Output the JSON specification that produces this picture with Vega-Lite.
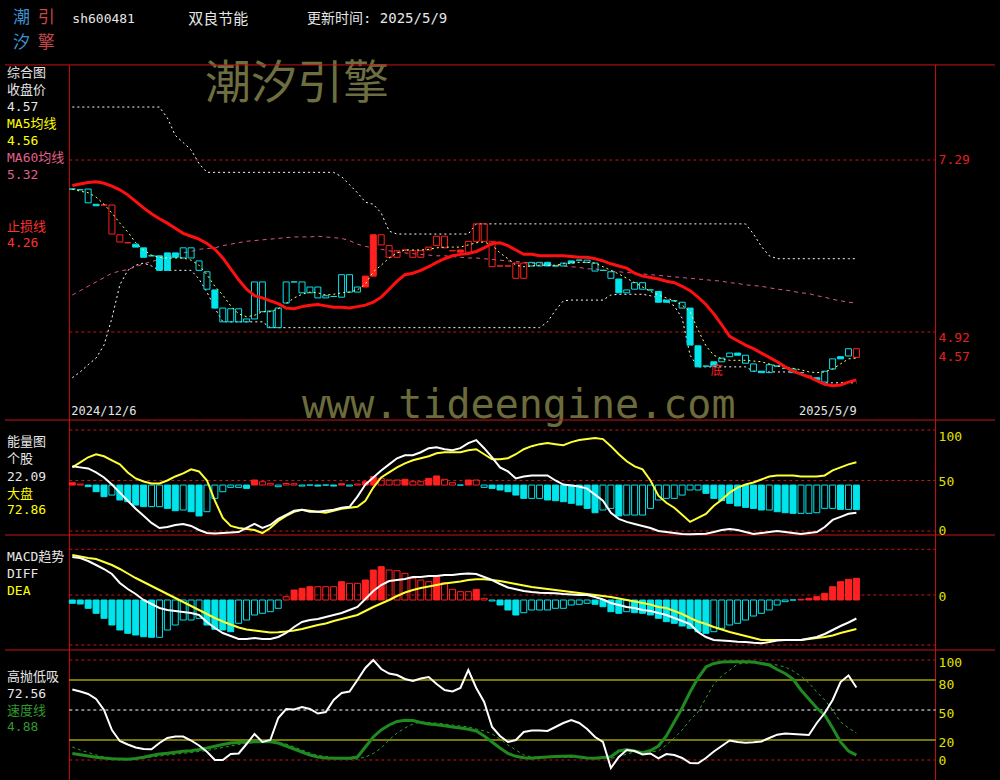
{
"$schema": "https://vega.github.io/schema/vega-lite/v6.json",
"width": 1000, "height": 780,
"autosize": {"type": "none"},
"padding": 0,
"background": "#000000",
"config": {"view": {"stroke": null}, "axis": {"disable": true}, "legend": {"disable": true},
  "text": {"font": "DejaVu Sans Mono, Noto Sans CJK SC", "fontSize": 13, "align": "left", "baseline": "middle"}},
"datasets": {"k": [
{"i":0,"o":6.89,"c":6.89,"tr":"down","stop":6.94,"ma5":6.89,"ma60":5.43,"ub":8.02,"lb":4.29,"eb":47.8,"ind":64,"mkt":63,"diff":0.38,"dea":0.4,"mb":-0.083,"hp":70.5,"sp":6.5,"sp2":13},
{"i":1,"o":6.88,"c":6.88,"tr":"down","stop":6.96,"ma5":6.86,"ma60":5.49,"ub":8.02,"lb":4.37,"eb":46.5,"ind":63,"mkt":68,"diff":0.37,"dea":0.385,"mb":-0.09,"hp":68.5,"sp":5.3,"sp2":10},
{"i":2,"o":6.70,"c":6.89,"tr":"down","stop":6.98,"ma5":6.84,"ma60":5.55,"ub":8.02,"lb":4.47,"eb":43.9,"ind":62,"mkt":73,"diff":0.34,"dea":0.37,"mb":-0.133,"hp":66,"sp":4,"sp2":7.5},
{"i":3,"o":6.68,"c":6.66,"tr":"down","stop":6.99,"ma5":6.78,"ma60":5.61,"ub":8.02,"lb":4.56,"eb":38.9,"ind":58,"mkt":76,"diff":0.30,"dea":0.36,"mb":-0.183,"hp":61,"sp":2.8,"sp2":5},
{"i":4,"o":6.67,"c":6.67,"tr":"up","stop":6.97,"ma5":6.68,"ma60":5.67,"ub":8.02,"lb":4.74,"eb":34.0,"ind":53,"mkt":74,"diff":0.26,"dea":0.33,"mb":-0.233,"hp":50,"sp":1.9,"sp2":3},
{"i":5,"o":6.67,"c":6.27,"tr":"up","stop":6.93,"ma5":6.56,"ma60":5.73,"ub":8.02,"lb":5.11,"eb":35.6,"ind":46,"mkt":70,"diff":0.21,"dea":0.30,"mb":-0.30,"hp":30,"sp":1.3,"sp2":2},
{"i":6,"o":6.26,"c":6.16,"tr":"up","stop":6.88,"ma5":6.42,"ma60":5.76,"ub":8.02,"lb":5.57,"eb":30.7,"ind":38,"mkt":66,"diff":0.12,"dea":0.26,"mb":-0.35,"hp":19,"sp":1,"sp2":1.5},
{"i":7,"o":6.15,"c":6.15,"tr":"up","stop":6.81,"ma5":6.30,"ma60":5.78,"ub":8.02,"lb":5.77,"eb":29.0,"ind":30,"mkt":58,"diff":0.06,"dea":0.215,"mb":-0.383,"hp":15.5,"sp":0.8,"sp2":1},
{"i":8,"o":6.13,"c":6.09,"tr":"down","stop":6.72,"ma5":6.15,"ma60":5.82,"ub":8.02,"lb":5.84,"eb":25.7,"ind":22,"mkt":52,"diff":0.01,"dea":0.17,"mb":-0.40,"hp":12.5,"sp":1.5,"sp2":1},
{"i":9,"o":6.08,"c":5.95,"tr":"down","stop":6.63,"ma5":6.05,"ma60":5.86,"ub":8.02,"lb":5.87,"eb":24.1,"ind":15,"mkt":49,"diff":-0.05,"dea":0.13,"mb":-0.417,"hp":11,"sp":2.7,"sp2":2},
{"i":10,"o":5.97,"c":5.97,"tr":"down","stop":6.55,"ma5":5.98,"ma60":5.89,"ub":8.02,"lb":5.83,"eb":24.1,"ind":8,"mkt":47,"diff":-0.09,"dea":0.09,"mb":-0.423,"hp":10.7,"sp":4.5,"sp2":3},
{"i":11,"o":5.97,"c":5.77,"tr":"down","stop":6.48,"ma5":5.95,"ma60":5.92,"ub":8.02,"lb":5.77,"eb":24.1,"ind":3,"mkt":47,"diff":-0.13,"dea":0.05,"mb":-0.423,"hp":17,"sp":6,"sp2":4},
{"i":12,"o":6.01,"c":5.77,"tr":"down","stop":6.42,"ma5":5.94,"ma60":5.95,"ub":7.87,"lb":5.77,"eb":22.4,"ind":4,"mkt":50,"diff":-0.15,"dea":0.01,"mb":-0.35,"hp":22,"sp":6.7,"sp2":5},
{"i":13,"o":6.01,"c":5.95,"tr":"down","stop":6.35,"ma5":5.94,"ma60":5.98,"ub":7.63,"lb":5.77,"eb":20.1,"ind":6,"mkt":54,"diff":-0.16,"dea":-0.03,"mb":-0.30,"hp":23.5,"sp":7.8,"sp2":5.8},
{"i":14,"o":5.94,"c":6.08,"tr":"down","stop":6.28,"ma5":5.94,"ma60":6.01,"ub":7.53,"lb":5.77,"eb":20.8,"ind":7,"mkt":57,"diff":-0.17,"dea":-0.07,"mb":-0.25,"hp":23.5,"sp":8.8,"sp2":6.7},
{"i":15,"o":5.94,"c":6.08,"tr":"down","stop":6.24,"ma5":5.91,"ma60":6.03,"ub":7.43,"lb":5.77,"eb":19.1,"ind":5,"mkt":61,"diff":-0.18,"dea":-0.11,"mb":-0.25,"hp":19.5,"sp":9.2,"sp2":7.5},
{"i":16,"o":5.77,"c":5.90,"tr":"down","stop":6.20,"ma5":5.84,"ma60":6.06,"ub":7.24,"lb":5.65,"eb":14.9,"ind":1,"mkt":59,"diff":-0.20,"dea":-0.15,"mb":-0.233,"hp":14.5,"sp":10.5,"sp2":8.5},
{"i":17,"o":5.51,"c":5.75,"tr":"down","stop":6.14,"ma5":5.71,"ma60":6.07,"ub":7.12,"lb":5.47,"eb":19.1,"ind":-2,"mkt":50,"diff":-0.27,"dea":-0.19,"mb":-0.30,"hp":8.3,"sp":12,"sp2":9.5},
{"i":18,"o":5.50,"c":5.25,"tr":"down","stop":6.06,"ma5":5.55,"ma60":6.08,"ub":7.12,"lb":5.25,"eb":32.3,"ind":-2.5,"mkt":30,"diff":-0.33,"dea":-0.23,"mb":-0.343,"hp":0,"sp":13.7,"sp2":11},
{"i":19,"o":5.06,"c":5.25,"tr":"down","stop":5.94,"ma5":5.43,"ma60":6.11,"ub":7.12,"lb":5.06,"eb":38.9,"ind":-2,"mkt":13,"diff":-0.38,"dea":-0.265,"mb":-0.35,"hp":0,"sp":15.5,"sp2":12.5},
{"i":20,"o":5.06,"c":5.24,"tr":"down","stop":5.79,"ma5":5.28,"ma60":6.13,"ub":7.12,"lb":5.06,"eb":43.2,"ind":-1.5,"mkt":5,"diff":-0.41,"dea":-0.295,"mb":-0.367,"hp":6,"sp":17,"sp2":14},
{"i":21,"o":5.06,"c":5.24,"tr":"down","stop":5.64,"ma5":5.17,"ma60":6.15,"ub":7.12,"lb":5.06,"eb":43.2,"ind":-1,"mkt":3,"diff":-0.44,"dea":-0.325,"mb":-0.283,"hp":6.5,"sp":17.5,"sp2":15.5},
{"i":22,"o":5.06,"c":5.10,"tr":"down","stop":5.51,"ma5":5.13,"ma60":6.17,"ub":7.12,"lb":5.06,"eb":42.2,"ind":3,"mkt":2,"diff":-0.44,"dea":-0.345,"mb":-0.25,"hp":16,"sp":18,"sp2":16.7},
{"i":23,"o":5.10,"c":5.61,"tr":"down","stop":5.42,"ma5":5.15,"ma60":6.18,"ub":7.12,"lb":5.06,"eb":50.5,"ind":7,"mkt":1,"diff":-0.43,"dea":-0.355,"mb":-0.20,"hp":26,"sp":18.2,"sp2":17.3},
{"i":24,"o":5.20,"c":5.61,"tr":"down","stop":5.39,"ma5":5.20,"ma60":6.19,"ub":7.12,"lb":5.06,"eb":48.8,"ind":3,"mkt":-2,"diff":-0.44,"dea":-0.365,"mb":-0.183,"hp":18,"sp":18.3,"sp2":17.8},
{"i":25,"o":4.98,"c":5.21,"tr":"down","stop":5.35,"ma5":5.20,"ma60":6.20,"ub":7.12,"lb":4.98,"eb":47.2,"ind":6,"mkt":3,"diff":-0.44,"dea":-0.375,"mb":-0.167,"hp":20,"sp":18.3,"sp2":18.3},
{"i":26,"o":4.98,"c":5.25,"tr":"down","stop":5.31,"ma5":5.24,"ma60":6.21,"ub":7.12,"lb":4.98,"eb":43.9,"ind":12,"mkt":10,"diff":-0.42,"dea":-0.372,"mb":-0.133,"hp":42,"sp":17,"sp2":17.5},
{"i":27,"o":5.32,"c":5.61,"tr":"down","stop":5.25,"ma5":5.31,"ma60":6.22,"ub":7.12,"lb":4.98,"eb":47.0,"ind":16,"mkt":15,"diff":-0.38,"dea":-0.365,"mb":-0.017,"hp":51,"sp":14,"sp2":16},
{"i":28,"o":5.61,"c":5.61,"tr":"down","stop":5.24,"ma5":5.39,"ma60":6.23,"ub":7.12,"lb":4.98,"eb":46.8,"ind":20,"mkt":19,"diff":-0.32,"dea":-0.355,"mb":0.05,"hp":50.5,"sp":11,"sp2":13},
{"i":29,"o":5.46,"c":5.61,"tr":"down","stop":5.27,"ma5":5.44,"ma60":6.23,"ub":7.12,"lb":4.98,"eb":44.5,"ind":21,"mkt":21,"diff":-0.27,"dea":-0.34,"mb":0.067,"hp":53,"sp":8,"sp2":10},
{"i":30,"o":5.46,"c":5.54,"tr":"down","stop":5.29,"ma5":5.47,"ma60":6.23,"ub":7.12,"lb":4.98,"eb":45.5,"ind":19,"mkt":20,"diff":-0.25,"dea":-0.32,"mb":0.083,"hp":51,"sp":5,"sp2":7},
{"i":31,"o":5.39,"c":5.54,"tr":"down","stop":5.30,"ma5":5.46,"ma60":6.24,"ub":7.12,"lb":4.98,"eb":44.5,"ind":19,"mkt":19,"diff":-0.24,"dea":-0.30,"mb":0.083,"hp":46.5,"sp":3,"sp2":4.5},
{"i":32,"o":5.39,"c":5.42,"tr":"down","stop":5.28,"ma5":5.43,"ma60":6.23,"ub":7.12,"lb":4.98,"eb":45.5,"ind":20,"mkt":18,"diff":-0.22,"dea":-0.285,"mb":0.083,"hp":48,"sp":2,"sp2":3.5},
{"i":33,"o":5.41,"c":5.41,"tr":"down","stop":5.26,"ma5":5.44,"ma60":6.22,"ub":7.12,"lb":4.98,"eb":44.5,"ind":21,"mkt":20,"diff":-0.20,"dea":-0.26,"mb":0.083,"hp":60,"sp":1.7,"sp2":2.5},
{"i":34,"o":5.40,"c":5.71,"tr":"down","stop":5.26,"ma5":5.46,"ma60":6.21,"ub":7.06,"lb":4.98,"eb":46.8,"ind":23,"mkt":22,"diff":-0.18,"dea":-0.24,"mb":0.133,"hp":67,"sp":1.7,"sp2":1.5},
{"i":35,"o":5.47,"c":5.71,"tr":"down","stop":5.25,"ma5":5.47,"ma60":6.18,"ub":6.95,"lb":4.98,"eb":44.5,"ind":24,"mkt":23,"diff":-0.15,"dea":-0.22,"mb":0.117,"hp":68.5,"sp":1.7,"sp2":0.8},
{"i":36,"o":5.47,"c":5.54,"tr":"down","stop":5.27,"ma5":5.50,"ma60":6.13,"ub":6.84,"lb":4.98,"eb":46.5,"ind":34,"mkt":24,"diff":-0.12,"dea":-0.20,"mb":0.117,"hp":80,"sp":3,"sp2":1},
{"i":37,"o":5.54,"c":5.69,"tr":"up","stop":5.29,"ma5":5.58,"ma60":6.10,"ub":6.71,"lb":4.98,"eb":48.8,"ind":46,"mkt":30,"diff":-0.04,"dea":-0.16,"mb":0.15,"hp":92,"sp":13,"sp2":3},
{"i":38,"o":5.69,"c":6.26,"tr":"up","stop":5.33,"ma5":5.75,"ma60":6.08,"ub":6.68,"lb":4.98,"eb":53.8,"ind":53,"mkt":43,"diff":0.04,"dea":-0.12,"mb":0.25,"hp":100,"sp":23,"sp2":6.5},
{"i":39,"o":6.26,"c":6.12,"tr":"up","stop":5.40,"ma5":5.84,"ma60":6.06,"ub":6.56,"lb":4.98,"eb":52.1,"ind":60,"mkt":53,"diff":0.10,"dea":-0.085,"mb":0.283,"hp":91,"sp":30,"sp2":12},
{"i":40,"o":6.11,"c":5.95,"tr":"up","stop":5.51,"ma5":5.94,"ma60":6.04,"ub":6.31,"lb":4.98,"eb":50.5,"ind":66,"mkt":58,"diff":0.14,"dea":-0.05,"mb":0.25,"hp":86.5,"sp":35,"sp2":20},
{"i":41,"o":6.04,"c":5.95,"tr":"up","stop":5.62,"ma5":6.01,"ma60":6.02,"ub":6.27,"lb":4.98,"eb":50.5,"ind":72,"mkt":63,"diff":0.15,"dea":-0.01,"mb":0.243,"hp":85,"sp":38.5,"sp2":27},
{"i":42,"o":6.05,"c":6.05,"tr":"up","stop":5.71,"ma5":6.05,"ma60":6.01,"ub":6.27,"lb":4.98,"eb":51.2,"ind":75,"mkt":67,"diff":0.16,"dea":0.025,"mb":0.217,"hp":81,"sp":39.7,"sp2":32},
{"i":43,"o":6.04,"c":5.95,"tr":"up","stop":5.73,"ma5":6.05,"ma60":6.00,"ub":6.27,"lb":4.98,"eb":48.8,"ind":75,"mkt":70,"diff":0.18,"dea":0.05,"mb":0.167,"hp":79,"sp":39.5,"sp2":36},
{"i":44,"o":6.04,"c":5.95,"tr":"up","stop":5.77,"ma5":6.05,"ma60":5.99,"ub":6.27,"lb":4.98,"eb":48.8,"ind":78,"mkt":72,"diff":0.18,"dea":0.07,"mb":0.15,"hp":81.5,"sp":37.5,"sp2":38},
{"i":45,"o":6.09,"c":6.05,"tr":"up","stop":5.82,"ma5":6.06,"ma60":5.98,"ub":6.27,"lb":4.98,"eb":52.1,"ind":82,"mkt":74,"diff":0.19,"dea":0.085,"mb":0.133,"hp":83,"sp":36,"sp2":37.5},
{"i":46,"o":6.24,"c":6.11,"tr":"up","stop":5.88,"ma5":6.08,"ma60":5.97,"ub":6.27,"lb":4.98,"eb":54.5,"ind":83,"mkt":77,"diff":0.19,"dea":0.10,"mb":0.183,"hp":76,"sp":35.3,"sp2":36.8},
{"i":47,"o":6.24,"c":6.08,"tr":"up","stop":5.93,"ma5":6.09,"ma60":5.97,"ub":6.27,"lb":4.98,"eb":51.2,"ind":81,"mkt":78,"diff":0.20,"dea":0.115,"mb":0.123,"hp":70,"sp":34.3,"sp2":36},
{"i":48,"o":6.04,"c":6.04,"tr":"up","stop":5.97,"ma5":6.09,"ma60":5.96,"ub":6.27,"lb":4.98,"eb":47.8,"ind":80,"mkt":78,"diff":0.20,"dea":0.125,"mb":0.057,"hp":68.5,"sp":33,"sp2":35},
{"i":49,"o":6.02,"c":6.05,"tr":"up","stop":5.99,"ma5":6.09,"ma60":5.95,"ub":6.27,"lb":4.98,"eb":45.5,"ind":82,"mkt":78,"diff":0.21,"dea":0.135,"mb":0.033,"hp":72,"sp":32,"sp2":34},
{"i":50,"o":6.17,"c":6.02,"tr":"up","stop":6.00,"ma5":6.12,"ma60":5.94,"ub":6.27,"lb":4.98,"eb":50.5,"ind":87,"mkt":80,"diff":0.215,"dea":0.15,"mb":0.033,"hp":90,"sp":30.7,"sp2":33},
{"i":51,"o":6.41,"c":6.17,"tr":"up","stop":6.03,"ma5":6.15,"ma60":5.94,"ub":6.41,"lb":4.98,"eb":50.5,"ind":90,"mkt":81,"diff":0.21,"dea":0.157,"mb":0.057,"hp":72,"sp":29,"sp2":31},
{"i":52,"o":6.41,"c":6.17,"tr":"up","stop":6.08,"ma5":6.16,"ma60":5.93,"ub":6.41,"lb":4.98,"eb":43.2,"ind":82,"mkt":76,"diff":0.18,"dea":0.157,"mb":-0.033,"hp":58,"sp":24,"sp2":29},
{"i":53,"o":6.17,"c":5.82,"tr":"up","stop":6.14,"ma5":6.12,"ma60":5.92,"ub":6.41,"lb":4.98,"eb":42.2,"ind":73,"mkt":71,"diff":0.15,"dea":0.15,"mb":-0.06,"hp":33,"sp":18,"sp2":26},
{"i":54,"o":5.83,"c":5.83,"tr":"up","stop":6.15,"ma5":6.01,"ma60":5.91,"ub":6.41,"lb":4.98,"eb":40.6,"ind":63,"mkt":71,"diff":0.11,"dea":0.14,"mb":-0.10,"hp":24,"sp":12,"sp2":21},
{"i":55,"o":5.83,"c":5.83,"tr":"up","stop":6.11,"ma5":5.93,"ma60":5.90,"ub":6.41,"lb":4.98,"eb":38.9,"ind":59,"mkt":72,"diff":0.075,"dea":0.125,"mb":-0.15,"hp":18,"sp":6.5,"sp2":15},
{"i":56,"o":5.87,"c":5.66,"tr":"up","stop":6.05,"ma5":5.84,"ma60":5.89,"ub":6.41,"lb":4.98,"eb":35.6,"ind":52,"mkt":76,"diff":0.057,"dea":0.11,"mb":-0.20,"hp":20,"sp":3.7,"sp2":10},
{"i":57,"o":5.87,"c":5.66,"tr":"up","stop":5.99,"ma5":5.82,"ma60":5.88,"ub":6.41,"lb":4.98,"eb":32.3,"ind":54,"mkt":81,"diff":0.04,"dea":0.095,"mb":-0.177,"hp":28,"sp":2.2,"sp2":5},
{"i":58,"o":5.83,"c":5.88,"tr":"down","stop":5.99,"ma5":5.83,"ma60":5.87,"ub":6.41,"lb":4.98,"eb":32.3,"ind":55,"mkt":84,"diff":0.03,"dea":0.08,"mb":-0.15,"hp":29.5,"sp":1.7,"sp2":3},
{"i":59,"o":5.83,"c":5.88,"tr":"down","stop":5.97,"ma5":5.84,"ma60":5.86,"ub":6.41,"lb":4.98,"eb":32.3,"ind":55,"mkt":86,"diff":0.023,"dea":0.07,"mb":-0.15,"hp":29.5,"sp":2.5,"sp2":3},
{"i":60,"o":5.88,"c":5.83,"tr":"down","stop":5.97,"ma5":5.84,"ma60":5.85,"ub":6.41,"lb":5.06,"eb":30.7,"ind":55,"mkt":87,"diff":0.02,"dea":0.06,"mb":-0.15,"hp":29,"sp":3.1,"sp2":3},
{"i":61,"o":5.83,"c":5.83,"tr":"down","stop":5.97,"ma5":5.84,"ma60":5.84,"ub":6.41,"lb":5.22,"eb":30.0,"ind":50,"mkt":86,"diff":0.017,"dea":0.05,"mb":-0.133,"hp":33,"sp":3.5,"sp2":2.8},
{"i":62,"o":5.83,"c":5.87,"tr":"down","stop":5.97,"ma5":5.86,"ma60":5.83,"ub":6.41,"lb":5.35,"eb":29.0,"ind":46,"mkt":85,"diff":0.01,"dea":0.04,"mb":-0.133,"hp":37,"sp":3.8,"sp2":2.7},
{"i":63,"o":5.90,"c":5.87,"tr":"down","stop":5.96,"ma5":5.87,"ma60":5.82,"ub":6.41,"lb":5.36,"eb":27.4,"ind":45,"mkt":88,"diff":0.005,"dea":0.03,"mb":-0.10,"hp":40,"sp":4,"sp2":2.6},
{"i":64,"o":5.91,"c":5.91,"tr":"down","stop":5.95,"ma5":5.88,"ma60":5.81,"ub":6.41,"lb":5.36,"eb":25.7,"ind":44,"mkt":90,"diff":0.001,"dea":0.02,"mb":-0.093,"hp":37,"sp":3,"sp2":2.4},
{"i":65,"o":5.88,"c":5.91,"tr":"down","stop":5.95,"ma5":5.88,"ma60":5.79,"ub":6.41,"lb":5.36,"eb":22.4,"ind":42,"mkt":91,"diff":0,"dea":0.01,"mb":-0.083,"hp":31,"sp":2,"sp2":2.2},
{"i":66,"o":5.76,"c":5.87,"tr":"down","stop":5.93,"ma5":5.87,"ma60":5.79,"ub":6.41,"lb":5.36,"eb":18.1,"ind":36,"mkt":92,"diff":-0.02,"dea":0,"mb":-0.093,"hp":23,"sp":1.8,"sp2":2},
{"i":67,"o":5.77,"c":5.77,"tr":"down","stop":5.90,"ma5":5.82,"ma60":5.77,"ub":6.41,"lb":5.36,"eb":20.8,"ind":30,"mkt":91,"diff":-0.045,"dea":-0.01,"mb":-0.117,"hp":18,"sp":2.5,"sp2":1.8},
{"i":68,"o":5.66,"c":5.75,"tr":"down","stop":5.86,"ma5":5.77,"ma60":5.76,"ub":6.41,"lb":5.43,"eb":22.4,"ind":18,"mkt":84,"diff":-0.08,"dea":-0.02,"mb":-0.167,"hp":-8,"sp":3.3,"sp2":1.7},
{"i":69,"o":5.65,"c":5.46,"tr":"down","stop":5.83,"ma5":5.72,"ma60":5.75,"ub":6.41,"lb":5.44,"eb":14.9,"ind":12,"mkt":76,"diff":-0.10,"dea":-0.035,"mb":-0.183,"hp":3,"sp":9,"sp2":3},
{"i":70,"o":5.46,"c":5.50,"tr":"down","stop":5.80,"ma5":5.66,"ma60":5.74,"ub":6.41,"lb":5.44,"eb":15.8,"ind":9,"mkt":69,"diff":-0.12,"dea":-0.05,"mb":-0.167,"hp":10,"sp":10.5,"sp2":6},
{"i":71,"o":5.51,"c":5.60,"tr":"down","stop":5.73,"ma5":5.60,"ma60":5.73,"ub":6.41,"lb":5.44,"eb":15.8,"ind":7,"mkt":64,"diff":-0.13,"dea":-0.065,"mb":-0.177,"hp":9,"sp":9,"sp2":8},
{"i":72,"o":5.51,"c":5.60,"tr":"down","stop":5.69,"ma5":5.54,"ma60":5.72,"ub":6.41,"lb":5.44,"eb":15.8,"ind":5,"mkt":61,"diff":-0.15,"dea":-0.08,"mb":-0.183,"hp":5.5,"sp":7.3,"sp2":8.3},
{"i":73,"o":5.50,"c":5.50,"tr":"down","stop":5.67,"ma5":5.48,"ma60":5.71,"ub":6.41,"lb":5.42,"eb":22.4,"ind":3,"mkt":50,"diff":-0.16,"dea":-0.095,"mb":-0.20,"hp":6.5,"sp":9.5,"sp2":8.3},
{"i":74,"o":5.48,"c":5.33,"tr":"down","stop":5.65,"ma5":5.43,"ma60":5.70,"ub":6.41,"lb":5.39,"eb":30.7,"ind":0,"mkt":35,"diff":-0.18,"dea":-0.12,"mb":-0.233,"hp":1.7,"sp":14,"sp2":9},
{"i":75,"o":5.36,"c":5.33,"tr":"down","stop":5.62,"ma5":5.39,"ma60":5.69,"ub":6.41,"lb":5.35,"eb":32.3,"ind":-1,"mkt":28,"diff":-0.20,"dea":-0.13,"mb":-0.267,"hp":6,"sp":24,"sp2":15},
{"i":76,"o":5.35,"c":5.35,"tr":"down","stop":5.60,"ma5":5.35,"ma60":5.68,"ub":6.41,"lb":5.28,"eb":32.3,"ind":-2,"mkt":23,"diff":-0.23,"dea":-0.16,"mb":-0.283,"hp":5,"sp":38,"sp2":22},
{"i":77,"o":5.25,"c":5.33,"tr":"down","stop":5.55,"ma5":5.29,"ma60":5.67,"ub":6.41,"lb":5.11,"eb":35.6,"ind":-3,"mkt":16,"diff":-0.26,"dea":-0.19,"mb":-0.31,"hp":2,"sp":52,"sp2":30},
{"i":78,"o":5.25,"c":4.74,"tr":"down","stop":5.49,"ma5":5.20,"ma60":5.66,"ub":6.41,"lb":4.60,"eb":40.6,"ind":-3.3,"mkt":9,"diff":-0.29,"dea":-0.23,"mb":-0.333,"hp":-3,"sp":68,"sp2":40},
{"i":79,"o":4.73,"c":4.44,"tr":"down","stop":5.40,"ma5":4.95,"ma60":5.65,"ub":6.41,"lb":4.44,"eb":40.6,"ind":-3,"mkt":13,"diff":-0.37,"dea":-0.265,"mb":-0.367,"hp":-3.3,"sp":82,"sp2":48},
{"i":80,"o":4.45,"c":4.45,"tr":"down","stop":5.30,"ma5":4.73,"ma60":5.64,"ub":6.41,"lb":4.44,"eb":37.3,"ind":-2.6,"mkt":17,"diff":-0.42,"dea":-0.29,"mb":-0.383,"hp":2,"sp":93,"sp2":62},
{"i":81,"o":4.51,"c":4.45,"tr":"down","stop":5.17,"ma5":4.60,"ma60":5.63,"ub":6.41,"lb":4.44,"eb":32.3,"ind":-1,"mkt":25,"diff":-0.45,"dea":-0.32,"mb":-0.367,"hp":8.5,"sp":96.5,"sp2":76},
{"i":82,"o":4.51,"c":4.56,"tr":"down","stop":5.02,"ma5":4.55,"ma60":5.62,"ub":6.41,"lb":4.44,"eb":30.0,"ind":1,"mkt":31,"diff":-0.455,"dea":-0.345,"mb":-0.333,"hp":14,"sp":98,"sp2":84},
{"i":83,"o":4.58,"c":4.63,"tr":"down","stop":4.86,"ma5":4.53,"ma60":5.60,"ub":6.41,"lb":4.44,"eb":27.4,"ind":2,"mkt":38,"diff":-0.46,"dea":-0.37,"mb":-0.30,"hp":19.5,"sp":98.3,"sp2":90},
{"i":84,"o":4.63,"c":4.60,"tr":"down","stop":4.80,"ma5":4.53,"ma60":5.59,"ub":6.41,"lb":4.44,"eb":24.8,"ind":1,"mkt":43,"diff":-0.467,"dea":-0.39,"mb":-0.283,"hp":18,"sp":98.3,"sp2":96},
{"i":85,"o":4.49,"c":4.60,"tr":"down","stop":4.74,"ma5":4.53,"ma60":5.57,"ub":6.41,"lb":4.44,"eb":23.4,"ind":-1,"mkt":46,"diff":-0.47,"dea":-0.41,"mb":-0.25,"hp":17.3,"sp":98.3,"sp2":96.8},
{"i":86,"o":4.38,"c":4.48,"tr":"down","stop":4.69,"ma5":4.52,"ma60":5.56,"ub":6.27,"lb":4.38,"eb":22.4,"ind":-3,"mkt":48,"diff":-0.478,"dea":-0.43,"mb":-0.21,"hp":17.8,"sp":98,"sp2":97.2},
{"i":87,"o":4.38,"c":4.36,"tr":"down","stop":4.63,"ma5":4.51,"ma60":5.55,"ub":6.10,"lb":4.37,"eb":20.8,"ind":-2,"mkt":51,"diff":-0.483,"dea":-0.45,"mb":-0.183,"hp":18.5,"sp":96.5,"sp2":97.3},
{"i":88,"o":4.36,"c":4.47,"tr":"down","stop":4.57,"ma5":4.48,"ma60":5.53,"ub":5.97,"lb":4.37,"eb":20.8,"ind":-1,"mkt":54,"diff":-0.47,"dea":-0.45,"mb":-0.15,"hp":22,"sp":95,"sp2":96},
{"i":89,"o":4.45,"c":4.45,"tr":"down","stop":4.51,"ma5":4.45,"ma60":5.51,"ub":5.93,"lb":4.37,"eb":19.1,"ind":0,"mkt":55,"diff":-0.455,"dea":-0.45,"mb":-0.10,"hp":25.3,"sp":90.5,"sp2":95},
{"i":90,"o":4.42,"c":4.42,"tr":"down","stop":4.44,"ma5":4.44,"ma60":5.50,"ub":5.93,"lb":4.37,"eb":18.1,"ind":-1,"mkt":55,"diff":-0.45,"dea":-0.45,"mb":-0.067,"hp":26.5,"sp":86.5,"sp2":93},
{"i":91,"o":4.36,"c":4.41,"tr":"down","stop":4.38,"ma5":4.42,"ma60":5.48,"ub":5.93,"lb":4.37,"eb":17.5,"ind":-2,"mkt":55,"diff":-0.45,"dea":-0.45,"mb":-0.05,"hp":26,"sp":81,"sp2":89},
{"i":92,"o":4.36,"c":4.36,"tr":"down","stop":4.34,"ma5":4.40,"ma60":5.46,"ub":5.93,"lb":4.34,"eb":17.5,"ind":-3,"mkt":54,"diff":-0.45,"dea":-0.45,"mb":-0.043,"hp":25.5,"sp":70,"sp2":84},
{"i":93,"o":4.31,"c":4.31,"tr":"down","stop":4.30,"ma5":4.37,"ma60":5.45,"ub":5.93,"lb":4.30,"eb":17.5,"ind":-2,"mkt":54,"diff":-0.435,"dea":-0.44,"mb":-0.033,"hp":25,"sp":61,"sp2":77},
{"i":94,"o":4.29,"c":4.26,"tr":"down","stop":4.25,"ma5":4.36,"ma60":5.42,"ub":5.93,"lb":4.24,"eb":18.1,"ind":-1,"mkt":54,"diff":-0.42,"dea":-0.43,"mb":-0.017,"hp":37,"sp":52,"sp2":68},
{"i":95,"o":4.23,"c":4.38,"tr":"down","stop":4.20,"ma5":4.37,"ma60":5.40,"ub":5.93,"lb":4.22,"eb":22.4,"ind":4,"mkt":55,"diff":-0.39,"dea":-0.42,"mb":0.017,"hp":47,"sp":45,"sp2":60},
{"i":96,"o":4.41,"c":4.55,"tr":"down","stop":4.18,"ma5":4.41,"ma60":5.37,"ub":5.93,"lb":4.22,"eb":22.4,"ind":11,"mkt":60,"diff":-0.35,"dea":-0.405,"mb":0.083,"hp":60,"sp":32,"sp2":50},
{"i":97,"o":4.58,"c":4.55,"tr":"down","stop":4.19,"ma5":4.48,"ma60":5.35,"ub":5.93,"lb":4.22,"eb":21.4,"ind":14,"mkt":63,"diff":-0.31,"dea":-0.38,"mb":0.133,"hp":78,"sp":18,"sp2":38},
{"i":98,"o":4.59,"c":4.69,"tr":"down","stop":4.23,"ma5":4.55,"ma60":5.33,"ub":5.93,"lb":4.22,"eb":21.4,"ind":17,"mkt":66,"diff":-0.275,"dea":-0.36,"mb":0.157,"hp":84.5,"sp":9,"sp2":32},
{"i":99,"o":4.69,"c":4.57,"tr":"up","stop":4.26,"ma5":4.56,"ma60":5.32,"ub":5.93,"lb":4.22,"eb":21.2,"ind":18,"mkt":68,"diff":-0.235,"dea":-0.34,"mb":0.167,"hp":72.56,"sp":4.88,"sp2":27}
]},
"data": {"name": "k"},
"layer": [
{"layer": [
 {"data": {"values": [{}]}, "mark": {"type": "text", "text": "潮汐引擎", "color": "#6e6e40", "fontSize": 46, "font": "Noto Sans CJK SC"}, "encoding": {"x": {"datum": 16.75, "type": "quantitative", "scale": {"domain": [-8.5, 116.5], "nice": false, "zero": false}}, "y": {"datum": 8.337, "type": "quantitative", "scale": {"domain": [-1.253, 9.495], "nice": false, "zero": false}}}},
 {"data": {"values": [{}]}, "mark": {"type": "text", "text": "www.tideengine.com", "color": "#6b6b3c", "fontSize": 40, "font": "DejaVu Sans Mono", "baseline": "alphabetic"}, "encoding": {"x": {"datum": 29, "type": "quantitative"}, "y": {"datum": 3.735, "type": "quantitative"}}},
 {"data": {"values": [{"lv": 7.29}, {"lv": 4.92}]}, "mark": {"type": "rule", "color": "#c81414", "strokeDash": [3, 3], "strokeWidth": 1}, "encoding": {"x": {"datum": -0.375, "type": "quantitative"}, "x2": {"datum": 109}, "y": {"field": "lv", "type": "quantitative"}}},
 {"data": {"values": [{"lv": 8.6}, {"lv": 3.707}]}, "mark": {"type": "rule", "color": "#c81414", "strokeWidth": 1}, "encoding": {"x": {"datum": -8.5, "type": "quantitative"}, "x2": {"datum": 116.5}, "y": {"field": "lv", "type": "quantitative"}}},
 {"data": {"values": [{"bx": -0.375}, {"bx": 109}]}, "mark": {"type": "rule", "color": "#c81414", "strokeWidth": 1}, "encoding": {"x": {"field": "bx", "type": "quantitative"}, "y": {"datum": 8.6, "type": "quantitative"}, "y2": {"datum": -1.253}}},
 {"mark": {"type": "line", "color": "#ffffff", "strokeWidth": 1, "strokeDash": [2, 3]}, "encoding": {"x": {"field": "i", "type": "quantitative"}, "y": {"field": "ub", "type": "quantitative"}}},
 {"mark": {"type": "line", "color": "#ffffff", "strokeWidth": 1, "strokeDash": [2, 3]}, "encoding": {"x": {"field": "i", "type": "quantitative"}, "y": {"field": "lb", "type": "quantitative"}}},
 {"mark": {"type": "line", "color": "#d9587f", "strokeWidth": 1, "strokeDash": [4, 4]}, "encoding": {"x": {"field": "i", "type": "quantitative"}, "y": {"field": "ma60", "type": "quantitative"}}},
 {"mark": {"type": "bar", "size": 6, "strokeWidth": 1}, "encoding": {"x": {"field": "i", "type": "quantitative"}, "y": {"field": "o", "type": "quantitative"}, "y2": {"field": "c"},
   "stroke": {"condition": {"test": "datum.tr=='up'", "value": "#ff2020"}, "value": "#00e4ec"},
   "fill": {"condition": [{"test": "datum.tr=='up' && datum.c>datum.o", "value": "#ff2020"}, {"test": "datum.tr=='down' && datum.c<datum.o", "value": "#00e4ec"}], "value": "transparent"}}},
 {"mark": {"type": "line", "color": "#ffff66", "strokeWidth": 1, "strokeDash": [2, 3]}, "encoding": {"x": {"field": "i", "type": "quantitative"}, "y": {"field": "ma5", "type": "quantitative"}}},
 {"mark": {"type": "line", "color": "#ff1010", "strokeWidth": 3}, "encoding": {"x": {"field": "i", "type": "quantitative"}, "y": {"field": "stop", "type": "quantitative"}}},
 {"data": {"values": [{}]}, "mark": {"type": "text", "text": "潮", "color": "#3f8fcf", "fontSize": 17, "font": "Noto Sans CJK SC"}, "encoding": {"x": {"datum": -7.5, "type": "quantitative"}, "y": {"datum": 9.247, "type": "quantitative"}}},
 {"data": {"values": [{}]}, "mark": {"type": "text", "text": "引", "color": "#c8464b", "fontSize": 17, "font": "Noto Sans CJK SC"}, "encoding": {"x": {"datum": -4.375, "type": "quantitative"}, "y": {"datum": 9.247, "type": "quantitative"}}},
 {"data": {"values": [{}]}, "mark": {"type": "text", "text": "汐", "color": "#3f8fcf", "fontSize": 17, "font": "Noto Sans CJK SC"}, "encoding": {"x": {"datum": -7.5, "type": "quantitative"}, "y": {"datum": 8.902, "type": "quantitative"}}},
 {"data": {"values": [{}]}, "mark": {"type": "text", "text": "擎", "color": "#c8464b", "fontSize": 17, "font": "Noto Sans CJK SC"}, "encoding": {"x": {"datum": -4.375, "type": "quantitative"}, "y": {"datum": 8.902, "type": "quantitative"}}},
 {"data": {"values": [{}]}, "mark": {"type": "text", "text": "sh600481", "color": "#e6e6e6"}, "encoding": {"x": {"datum": 0, "type": "quantitative"}, "y": {"datum": 9.233, "type": "quantitative"}}},
 {"data": {"values": [{}]}, "mark": {"type": "text", "text": "双良节能", "color": "#e6e6e6", "fontSize": 15}, "encoding": {"x": {"datum": 14.625, "type": "quantitative"}, "y": {"datum": 9.233, "type": "quantitative"}}},
 {"data": {"values": [{}]}, "mark": {"type": "text", "text": "更新时间: 2025/5/9", "color": "#e6e6e6", "fontSize": 14}, "encoding": {"x": {"datum": 29.625, "type": "quantitative"}, "y": {"datum": 9.233, "type": "quantitative"}}},
 {"data": {"values": [{}]}, "mark": {"type": "text", "text": "综合图", "color": "#e6e6e6"}, "encoding": {"x": {"datum": -8.25, "type": "quantitative"}, "y": {"datum": 8.489, "type": "quantitative"}}},
 {"data": {"values": [{}]}, "mark": {"type": "text", "text": "收盘价", "color": "#e6e6e6"}, "encoding": {"x": {"datum": -8.25, "type": "quantitative"}, "y": {"datum": 8.255, "type": "quantitative"}}},
 {"data": {"values": [{}]}, "mark": {"type": "text", "text": "4.57", "color": "#e6e6e6"}, "encoding": {"x": {"datum": -8.25, "type": "quantitative"}, "y": {"datum": 8.021, "type": "quantitative"}}},
 {"data": {"values": [{}]}, "mark": {"type": "text", "text": "MA5均线", "color": "#ffff00"}, "encoding": {"x": {"datum": -8.25, "type": "quantitative"}, "y": {"datum": 7.786, "type": "quantitative"}}},
 {"data": {"values": [{}]}, "mark": {"type": "text", "text": "4.56", "color": "#ffff00"}, "encoding": {"x": {"datum": -8.25, "type": "quantitative"}, "y": {"datum": 7.552, "type": "quantitative"}}},
 {"data": {"values": [{}]}, "mark": {"type": "text", "text": "MA60均线", "color": "#e0608a"}, "encoding": {"x": {"datum": -8.25, "type": "quantitative"}, "y": {"datum": 7.318, "type": "quantitative"}}},
 {"data": {"values": [{}]}, "mark": {"type": "text", "text": "5.32", "color": "#e0608a"}, "encoding": {"x": {"datum": -8.25, "type": "quantitative"}, "y": {"datum": 7.083, "type": "quantitative"}}},
 {"data": {"values": [{}]}, "mark": {"type": "text", "text": "止损线", "color": "#ff3030"}, "encoding": {"x": {"datum": -8.25, "type": "quantitative"}, "y": {"datum": 6.367, "type": "quantitative"}}},
 {"data": {"values": [{}]}, "mark": {"type": "text", "text": "4.26", "color": "#ff3030"}, "encoding": {"x": {"datum": -8.25, "type": "quantitative"}, "y": {"datum": 6.146, "type": "quantitative"}}},
 {"data": {"values": [{}]}, "mark": {"type": "text", "text": "2024/12/6", "color": "#e6e6e6", "fontSize": 12}, "encoding": {"x": {"datum": -0.125, "type": "quantitative"}, "y": {"datum": 3.831, "type": "quantitative"}}},
 {"data": {"values": [{}]}, "mark": {"type": "text", "text": "2025/5/9", "color": "#e6e6e6", "fontSize": 12}, "encoding": {"x": {"datum": 91.75, "type": "quantitative"}, "y": {"datum": 3.831, "type": "quantitative"}}},
 {"data": {"values": [{}]}, "mark": {"type": "text", "text": "底", "color": "#ff2020", "fontSize": 12}, "encoding": {"x": {"datum": 80.6, "type": "quantitative"}, "y": {"datum": 4.383, "type": "quantitative"}}},
 {"data": {"values": [{}]}, "mark": {"type": "text", "text": "7.29", "color": "#e02020"}, "encoding": {"x": {"datum": 109.375, "type": "quantitative"}, "y": {"datum": 7.29, "type": "quantitative"}}},
 {"data": {"values": [{}]}, "mark": {"type": "text", "text": "4.92", "color": "#e02020", "baseline": "top"}, "encoding": {"x": {"datum": 109.375, "type": "quantitative"}, "y": {"datum": 4.92, "type": "quantitative"}}},
 {"data": {"values": [{}]}, "mark": {"type": "text", "text": "4.57", "color": "#e02020"}, "encoding": {"x": {"datum": 109.375, "type": "quantitative"}, "y": {"datum": 4.57, "type": "quantitative"}}}
]},
{"layer": [
 {"data": {"values": [{"lv": 100}, {"lv": 50}, {"lv": 0}]}, "mark": {"type": "rule", "color": "#c81414", "strokeDash": [3, 3], "strokeWidth": 1}, "encoding": {"x": {"datum": -0.375, "type": "quantitative"}, "x2": {"datum": 109}, "y": {"field": "lv", "type": "quantitative", "scale": {"domain": [-246.5, 525.7], "nice": false, "zero": false}}}},
 {"data": {"values": [{"lv": -3.96}]}, "mark": {"type": "rule", "color": "#c81414", "strokeWidth": 1}, "encoding": {"x": {"datum": -8.5, "type": "quantitative"}, "x2": {"datum": 116.5}, "y": {"field": "lv", "type": "quantitative"}}},
 {"transform": [{"window": [{"op": "lag", "field": "eb", "as": "ebp"}], "sort": [{"field": "i", "order": "ascending"}]}],
  "mark": {"type": "bar", "size": 6, "strokeWidth": 1},
  "encoding": {"x": {"field": "i", "type": "quantitative"}, "y": {"field": "eb", "type": "quantitative"}, "y2": {"datum": 45.5},
   "stroke": {"condition": {"test": "datum.eb>45.5", "value": "#ff2020"}, "value": "#00e4ec"},
   "fill": {"condition": [{"test": "(datum.ebp==null || abs(datum.eb-45.5)>abs(datum.ebp-45.5)) && datum.eb>45.5", "value": "#ff2020"}, {"test": "(datum.ebp==null || abs(datum.eb-45.5)>abs(datum.ebp-45.5)) && datum.eb<=45.5", "value": "#00e4ec"}], "value": "transparent"}}},
 {"mark": {"type": "line", "color": "#ffff33", "strokeWidth": 2}, "encoding": {"x": {"field": "i", "type": "quantitative"}, "y": {"field": "mkt", "type": "quantitative"}}},
 {"mark": {"type": "line", "color": "#ffffff", "strokeWidth": 2}, "encoding": {"x": {"field": "i", "type": "quantitative"}, "y": {"field": "ind", "type": "quantitative"}}},
 {"data": {"values": [{}]}, "mark": {"type": "text", "text": "能量图", "color": "#e6e6e6"}, "encoding": {"x": {"datum": -8.25, "type": "quantitative"}, "y": {"datum": 88.1, "type": "quantitative"}}},
 {"data": {"values": [{}]}, "mark": {"type": "text", "text": "个股", "color": "#e6e6e6"}, "encoding": {"x": {"datum": -8.25, "type": "quantitative"}, "y": {"datum": 71.3, "type": "quantitative"}}},
 {"data": {"values": [{}]}, "mark": {"type": "text", "text": "22.09", "color": "#e6e6e6"}, "encoding": {"x": {"datum": -8.25, "type": "quantitative"}, "y": {"datum": 53.5, "type": "quantitative"}}},
 {"data": {"values": [{}]}, "mark": {"type": "text", "text": "大盘", "color": "#ffff00"}, "encoding": {"x": {"datum": -8.25, "type": "quantitative"}, "y": {"datum": 36.6, "type": "quantitative"}}},
 {"data": {"values": [{}]}, "mark": {"type": "text", "text": "72.86", "color": "#ffff00"}, "encoding": {"x": {"datum": -8.25, "type": "quantitative"}, "y": {"datum": 20.8, "type": "quantitative"}}},
 {"data": {"values": [{"lab": "100", "lv": 93.1}, {"lab": "50", "lv": 48.5}, {"lab": "0", "lv": 0}]}, "mark": {"type": "text", "color": "#e0e000"}, "encoding": {"x": {"datum": 109.375, "type": "quantitative"}, "y": {"field": "lv", "type": "quantitative"}, "text": {"field": "lab"}}}
]},
{"layer": [
 {"data": {"values": [{"lv": 0.457}, {"lv": 0}, {"lv": -0.5}]}, "mark": {"type": "rule", "color": "#c81414", "strokeDash": [3, 3], "strokeWidth": 1}, "encoding": {"x": {"datum": -0.375, "type": "quantitative"}, "x2": {"datum": 109}, "y": {"field": "lv", "type": "quantitative", "scale": {"domain": [-1.85, 5.95], "nice": false, "zero": false}}}},
 {"data": {"values": [{"lv": -0.55}]}, "mark": {"type": "rule", "color": "#c81414", "strokeWidth": 1}, "encoding": {"x": {"datum": -8.5, "type": "quantitative"}, "x2": {"datum": 116.5}, "y": {"field": "lv", "type": "quantitative"}}},
 {"transform": [{"window": [{"op": "lag", "field": "mb", "as": "mbp"}], "sort": [{"field": "i", "order": "ascending"}]}],
  "mark": {"type": "bar", "size": 6, "strokeWidth": 1},
  "encoding": {"x": {"field": "i", "type": "quantitative"}, "y": {"field": "mb", "type": "quantitative"}, "y2": {"datum": -0.05},
   "stroke": {"condition": {"test": "datum.mb>-0.05", "value": "#ff2020"}, "value": "#00e4ec"},
   "fill": {"condition": [{"test": "(datum.mbp==null || abs(datum.mb+0.05)>abs(datum.mbp+0.05)) && datum.mb>-0.05", "value": "#ff2020"}, {"test": "(datum.mbp==null || abs(datum.mb+0.05)>abs(datum.mbp+0.05)) && datum.mb<=-0.05", "value": "#00e4ec"}], "value": "transparent"}}},
 {"mark": {"type": "line", "color": "#ffff33", "strokeWidth": 2}, "encoding": {"x": {"field": "i", "type": "quantitative"}, "y": {"field": "dea", "type": "quantitative"}}},
 {"mark": {"type": "line", "color": "#ffffff", "strokeWidth": 2}, "encoding": {"x": {"field": "i", "type": "quantitative"}, "y": {"field": "diff", "type": "quantitative"}}},
 {"data": {"values": [{}]}, "mark": {"type": "text", "text": "MACD趋势", "color": "#e6e6e6"}, "encoding": {"x": {"datum": -8.25, "type": "quantitative"}, "y": {"datum": 0.38, "type": "quantitative"}}},
 {"data": {"values": [{}]}, "mark": {"type": "text", "text": "DIFF", "color": "#e6e6e6"}, "encoding": {"x": {"datum": -8.25, "type": "quantitative"}, "y": {"datum": 0.21, "type": "quantitative"}}},
 {"data": {"values": [{}]}, "mark": {"type": "text", "text": "DEA", "color": "#ffff00"}, "encoding": {"x": {"datum": -8.25, "type": "quantitative"}, "y": {"datum": 0.04, "type": "quantitative"}}},
 {"data": {"values": [{}]}, "mark": {"type": "text", "text": "0", "color": "#e0e000"}, "encoding": {"x": {"datum": 109.375, "type": "quantitative"}, "y": {"datum": -0.02, "type": "quantitative"}}}
]},
{"layer": [
 {"data": {"values": [{"lv": 100}, {"lv": 0}]}, "mark": {"type": "rule", "color": "#c81414", "strokeDash": [3, 3], "strokeWidth": 1}, "encoding": {"x": {"datum": -0.375, "type": "quantitative"}, "x2": {"datum": 109}, "y": {"field": "lv", "type": "quantitative", "scale": {"domain": [-20, 760], "nice": false, "zero": false}}}},
 {"data": {"values": [{"lv": 80}, {"lv": 20}]}, "mark": {"type": "rule", "color": "#f0f000", "strokeWidth": 1}, "encoding": {"x": {"datum": -0.375, "type": "quantitative"}, "x2": {"datum": 109}, "y": {"field": "lv", "type": "quantitative"}}},
 {"data": {"values": [{"lv": 50}]}, "mark": {"type": "rule", "color": "#ffffff", "strokeDash": [3, 3], "strokeWidth": 1}, "encoding": {"x": {"datum": -0.375, "type": "quantitative"}, "x2": {"datum": 109}, "y": {"field": "lv", "type": "quantitative"}}},
 {"mark": {"type": "line", "color": "#2ca02c", "strokeWidth": 1, "strokeDash": [3, 3]}, "encoding": {"x": {"field": "i", "type": "quantitative"}, "y": {"field": "sp2", "type": "quantitative"}}},
 {"mark": {"type": "line", "color": "#1f8a1f", "strokeWidth": 3}, "encoding": {"x": {"field": "i", "type": "quantitative"}, "y": {"field": "sp", "type": "quantitative"}}},
 {"mark": {"type": "line", "color": "#ffffff", "strokeWidth": 2}, "encoding": {"x": {"field": "i", "type": "quantitative"}, "y": {"field": "hp", "type": "quantitative"}}},
 {"data": {"values": [{}]}, "mark": {"type": "text", "text": "高抛低吸", "color": "#e6e6e6"}, "encoding": {"x": {"datum": -8.25, "type": "quantitative"}, "y": {"datum": 83, "type": "quantitative"}}},
 {"data": {"values": [{}]}, "mark": {"type": "text", "text": "72.56", "color": "#e6e6e6"}, "encoding": {"x": {"datum": -8.25, "type": "quantitative"}, "y": {"datum": 66, "type": "quantitative"}}},
 {"data": {"values": [{}]}, "mark": {"type": "text", "text": "速度线", "color": "#2e9a2e"}, "encoding": {"x": {"datum": -8.25, "type": "quantitative"}, "y": {"datum": 49, "type": "quantitative"}}},
 {"data": {"values": [{}]}, "mark": {"type": "text", "text": "4.88", "color": "#2e9a2e"}, "encoding": {"x": {"datum": -8.25, "type": "quantitative"}, "y": {"datum": 33, "type": "quantitative"}}},
 {"data": {"values": [{"lab": "100", "lv": 97}, {"lab": "80", "lv": 75}, {"lab": "50", "lv": 46}, {"lab": "20", "lv": 17}, {"lab": "0", "lv": -1}]}, "mark": {"type": "text", "color": "#e0e000"}, "encoding": {"x": {"datum": 109.375, "type": "quantitative"}, "y": {"field": "lv", "type": "quantitative"}, "text": {"field": "lab"}}}
]}
],
"resolve": {"scale": {"y": "independent"}}
}
